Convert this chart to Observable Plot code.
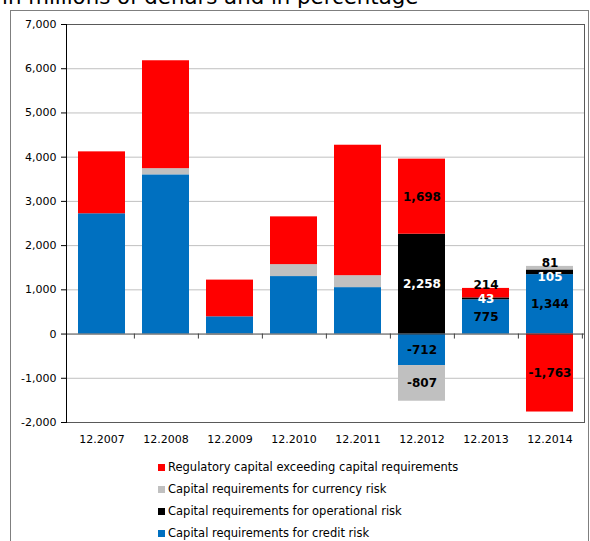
<!DOCTYPE html>
<html><head><meta charset="utf-8">
<script src="https://cdn.jsdelivr.net/npm/d3@7"></script>
<script src="https://cdn.jsdelivr.net/npm/@observablehq/plot@0.6"></script>
<style>
body{margin:0;background:#fff;font-family:"DejaVu Sans",Verdana,sans-serif;}
#wrap{position:relative;width:590px;height:541px;overflow:hidden;}
#frame{position:absolute;left:10px;top:10px;width:577px;height:600px;border:1px solid #7f7f7f;}
#title{position:absolute;left:2px;top:-14px;font-size:21.3px;line-height:21px;white-space:nowrap;color:#000;}
#chart{position:absolute;left:0;top:0;}
#legend{position:absolute;left:158px;top:456px;font-size:11.5px;color:#000;}
.item{height:22px;display:flex;align-items:center;white-space:nowrap;}
.sw{width:7px;height:7px;margin-right:3px;flex:none;}
</style></head>
<body>
<div id="wrap">
  <div id="frame"></div>
  <div id="title">in millions of denars and in percentage</div>
  <div id="chart"></div>
  <div id="legend"></div>
</div>
<script>
const categories = ["12.2007","12.2008","12.2009","12.2010","12.2011","12.2012","12.2013","12.2014"];
const creditRisk      = [2720, 3600, 390, 1300, 1050, -712, 775, 1344];
const operationalRisk = [0, 0, 0, 0, 0, 2258, 43, 105];
const currencyRisk    = [0, 140, -20, 270, 270, -807, 0, 81];
const excessCapital   = [1400, 2440, 830, 1080, 2950, 1698, 214, -1763];

const seriesNames = [
  "Capital requirements for credit risk",
  "Capital requirements for operational risk",
  "Capital requirements for currency risk",
  "Regulatory capital exceeding capital requirements"
];
const seriesColors = ["#0070c0", "#000000", "#c0c0c0", "#ff0000"];
const legendOrder = [3, 2, 1, 0];
const yTicks = [-2000,-1000,0,1000,2000,3000,4000,5000,6000,7000];
const gridTicks = [-1000,1000,2000,3000,4000,5000,6000];
const labelledCategories = ["12.2012","12.2013","12.2014"];
const labelsAbove = ["12.2013|" + seriesNames[3], "12.2014|" + seriesNames[2]];
const labelsLowered = ["12.2014|" + seriesNames[1]];

const seriesValues = [creditRisk, operationalRisk, currencyRisk, excessCapital];
const fmt = v => v.toLocaleString("en-US");
const rows = [];
categories.forEach((c, i) => {
  seriesNames.forEach((s, k) => {
    const v = seriesValues[k][i];
    const key = c + "|" + s;
    rows.push({
      cat: c, series: s, value: v,
      show: labelledCategories.includes(c) && v !== 0,
      above: labelsAbove.includes(key),
      lowered: labelsLowered.includes(key),
      white: k === 1
    });
  });
});

const W = 590, H = 455, mL = 66, mR = 6, mT = 24, mB = 33;
const step = (W - mL - mR) / categories.length;
const lab = {fontFamily: "DejaVu Sans", fontSize: 12, fontWeight: "bold", lineAnchor: "middle"};

const chart = Plot.plot({
  width: W, height: H, marginLeft: mL, marginRight: mR, marginTop: mT, marginBottom: mB,
  style: {fontFamily: "DejaVu Sans", fontSize: "11px", background: "transparent", color: "black"},
  x: {domain: categories, paddingInner: 0.27, paddingOuter: 0.135, label: null},
  y: {domain: [-2000, 7000], label: null},
  color: {domain: seriesNames, range: seriesColors},
  marks: [
    Plot.ruleY(gridTicks, {stroke: "#c0c0c0", strokeWidth: 1}),
    Plot.barY(rows, Plot.stackY({x: "cat", y: "value", fill: "series"})),
    Plot.ruleY([0], {stroke: "#404040"}),
    Plot.ruleX(categories, {x: d => d, y1: 0, y2: 0, insetBottom: -5, dx: step / 2, stroke: "#404040"}),
    Plot.frame({stroke: "#595959"}),
    Plot.frame({anchor: "left", stroke: "#000"}),
    Plot.axisY({ticks: yTicks, tickFormat: fmt, tickSize: 5, tickPadding: 5, label: null, stroke: "#000"}),
    Plot.axisX({tickSize: 0, tickPadding: 13, label: null}),
    Plot.text(rows, Plot.stackY({x: "cat", y: "value", text: d => (d.show && !d.above && !d.white) ? fmt(d.value) : "", fill: "black", ...lab})),
    Plot.text(rows, Plot.stackY({x: "cat", y: "value", text: d => (d.show && !d.above && d.white && !d.lowered) ? fmt(d.value) : "", fill: "white", ...lab})),
    Plot.text(rows, Plot.stackY({x: "cat", y: "value", text: d => (d.show && d.lowered) ? fmt(d.value) : "", fill: "white", dy: 5, ...lab})),
    Plot.text(rows, Plot.stackY2({x: "cat", y: "value", text: d => (d.show && d.above) ? fmt(d.value) : "", fill: "black", dy: -3, ...lab}))
  ]
});
document.getElementById("chart").appendChild(chart);

const legend = document.getElementById("legend");
legendOrder.forEach(k => {
  const it = document.createElement("div");
  it.className = "item";
  const sw = document.createElement("span");
  sw.className = "sw";
  sw.style.background = seriesColors[k];
  const tx = document.createElement("span");
  tx.textContent = seriesNames[k];
  it.appendChild(sw); it.appendChild(tx);
  legend.appendChild(it);
});
</script>
</body></html>
